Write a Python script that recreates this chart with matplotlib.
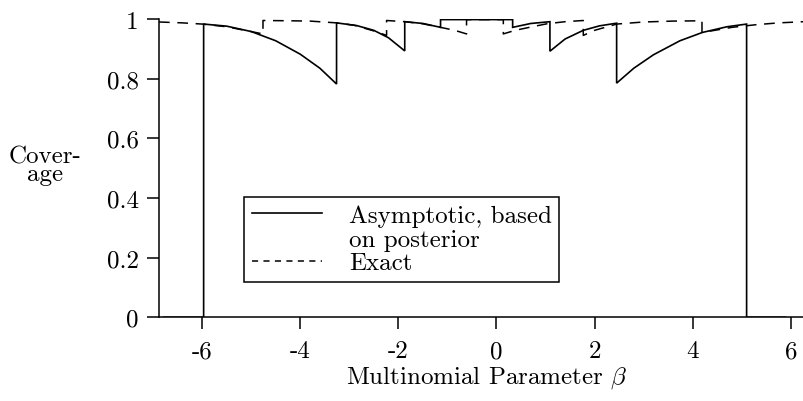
import matplotlib
matplotlib.use("Agg")
import matplotlib.pyplot as plt
from matplotlib.lines import Line2D

plt.rcParams["font.family"] = "serif"
plt.rcParams["font.serif"] = ["cmr10"]
plt.rcParams["mathtext.fontset"] = "cm"
plt.rcParams["axes.unicode_minus"] = False

# asymptotic coverage (solid); repeated beta = jump
asym_beta = [-6.78, -5.97, -5.97, -5.5, -5.0, -4.5, -4.0, -3.6, -3.26,
             -3.26, -2.85, -2.5, -2.2, -1.87,
             -1.87, -1.5, -1.14,
             -1.14, 0.33,
             0.33, 0.7, 1.09,
             1.09, 1.4, 1.77, 2.1, 2.45,
             2.45, 2.8, 3.2, 3.74, 4.2, 4.7, 5.10,
             5.10, 5.89]
asym_cov = [0.0, 0.0, 0.983, 0.976, 0.958, 0.927, 0.882, 0.835, 0.782,
            0.987, 0.978, 0.962, 0.937, 0.893,
            0.991, 0.985, 0.972,
            0.998, 0.998,
            0.972, 0.985, 0.991,
            0.892, 0.933, 0.962, 0.977, 0.986,
            0.785, 0.835, 0.880, 0.927, 0.955, 0.974, 0.983,
            0.0, 0.0]

# exact coverage (dashed)
exact_beta = [-6.88, -6.4, -6.0, -5.5, -5.1, -4.76,
              -4.76, -4.2, -3.8, -3.26, -2.9, -2.5, -2.24,
              -2.24, -1.87, -1.5, -1.14, -0.85, -0.61,
              -0.61, 0.14,
              0.14, 0.38, 0.67, 1.03, 1.4, 1.77,
              1.77, 2.0, 2.45, 3.0, 3.6, 4.19,
              4.19, 4.45, 4.8, 5.3, 5.75, 6.27]
exact_cov = [0.990, 0.987, 0.983, 0.974, 0.961, 0.950,
             0.995, 0.994, 0.993, 0.987, 0.979, 0.960, 0.945,
             0.995, 0.991, 0.984, 0.972, 0.962, 0.950,
             0.998, 0.998,
             0.950, 0.962, 0.972, 0.984, 0.991, 0.995,
             0.945, 0.962, 0.983, 0.990, 0.993, 0.994,
             0.955, 0.962, 0.972, 0.981, 0.987, 0.991]

xticks = [-6, -4, -2, 0, 2, 4, 6]
xtick_labels = ["-6", "-4", "-2", "0", "2", "4", "6"]
yticks = [0, 0.2, 0.4, 0.6, 0.8, 1]
ytick_labels = ["0", "0.2", "0.4", "0.6", "0.8", "1"]

fs = 18

fig = plt.figure(figsize=(8.04, 4.02), dpi=100)
ax = fig.add_axes([159 / 804, 1 - 318.3 / 402, 1 - 159 / 804, (318.3 - 20) / 402])

ax.plot(asym_beta, asym_cov, color="black", lw=1.2, solid_joinstyle="miter")
ax.plot(exact_beta, exact_cov, color="black", lw=1.1, dashes=(7, 5))

ax.set_xlim(-6.88, 6.27)
ax.set_ylim(0, 1)
ax.spines["top"].set_visible(False)
ax.spines["right"].set_visible(False)
for s in ("left", "bottom"):
    ax.spines[s].set_linewidth(1.1)
ax.set_xticks(xticks)
ax.set_xticklabels(xtick_labels, fontsize=fs)
ax.set_yticks(yticks)
ax.set_yticklabels(ytick_labels, fontsize=fs)
ax.tick_params(direction="out", length=8.6, width=1.1, color="black")
ax.tick_params(axis="x", pad=8)
ax.tick_params(axis="y", pad=6)

handles = [Line2D([], [], color="black", lw=1.2),
           Line2D([], [], color="none"),
           Line2D([], [], color="black", lw=1.1, dashes=(4, 3.5))]
labels = ["Asymptotic, based", "on posterior", "Exact"]
leg = ax.legend(handles, labels, loc="lower left",
                bbox_to_anchor=(0.1318, 0.119), fontsize=fs,
                frameon=True, fancybox=False, edgecolor="black",
                framealpha=1, handlelength=2.8, handletextpad=1.1,
                labelspacing=0.05, borderpad=0.3, borderaxespad=0)
leg.get_frame().set_linewidth(1.1)

fig.text(45 / 804, 1 - 166 / 402, "Cover-\nage", fontsize=fs, ha="center",
         va="center", multialignment="center", linespacing=0.72)
fig.text(487 / 804, 1 - 378 / 402, r"Multinomial Parameter $\beta$",
         fontsize=fs, ha="center", va="center")

fig.savefig("out.png", dpi=100)
